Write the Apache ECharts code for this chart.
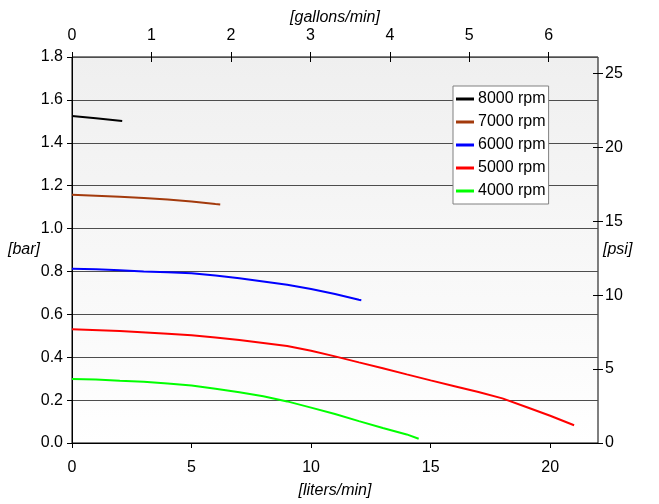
<!DOCTYPE html>
<html>
<head>
<meta charset="UTF-8">
<title>pump curves</title>
<script src="https://cdn.jsdelivr.net/npm/echarts@6/dist/echarts.min.js"></script>
<style>
  html, body { margin: 0; padding: 0; background: #fff; }
  #main { width: 659px; height: 504px; }
</style>
</head>
<body>
<div id="main"></div>
<script type="text/javascript">
// flow in liters/min, pressure in bar
var names = ['8000 rpm', '7000 rpm', '6000 rpm', '5000 rpm', '4000 rpm'];
var colors = ['#000000', '#a33a0c', '#0000ff', '#ff0000', '#00ff00'];

var flow8000 = [0, 1, 2.1];
var bar8000 = [1.525, 1.514, 1.502];

var flow7000 = [0, 1, 2, 3, 4, 5, 6, 6.2];
var bar7000 = [1.158, 1.153, 1.148, 1.142, 1.135, 1.126, 1.114, 1.112];

var flow6000 = [0, 1, 2, 3, 4, 5, 6, 7, 8, 9, 10, 11, 12, 12.1];
var bar6000 = [0.813, 0.810, 0.805, 0.800, 0.796, 0.792, 0.781, 0.768, 0.753, 0.738, 0.718, 0.695, 0.668, 0.666];

var flow5000 = [0, 2, 4, 5, 6, 7, 8, 9, 10, 11, 12, 13, 14, 15, 16, 17, 18, 19, 20, 21];
var bar5000 = [0.530, 0.522, 0.510, 0.502, 0.492, 0.480, 0.466, 0.452, 0.430, 0.404, 0.376, 0.349, 0.320, 0.292, 0.265, 0.238, 0.208, 0.168, 0.127, 0.083];

var flow4000 = [0, 1, 2, 3, 4, 5, 6, 7, 8, 9, 10, 11, 12, 13, 14, 14.5];
var bar4000 = [0.298, 0.296, 0.290, 0.286, 0.278, 0.268, 0.253, 0.237, 0.218, 0.194, 0.165, 0.135, 0.102, 0.070, 0.040, 0.020];

var flows = [flow8000, flow7000, flow6000, flow5000, flow4000];
var bars = [bar8000, bar7000, bar6000, bar5000, bar4000];

function pairs(xs, ys) {
  var out = [];
  for (var i = 0; i < xs.length; i++) out.push([xs[i], ys[i]]);
  return out;
}

var series = [];
for (var k = 0; k < names.length; k++) {
  series.push({
    name: names[k],
    type: 'line',
    xAxisIndex: 0,
    yAxisIndex: 0,
    showSymbol: false,
    symbol: 'none',
    lineStyle: { color: colors[k], width: 2 },
    itemStyle: { color: colors[k] },
    data: pairs(flows[k], bars[k])
  });
}

var font = 'Arial, "Liberation Sans", sans-serif';
var lblStyle = { color: '#000', fontSize: 16, fontFamily: font };
var nameStyle = { color: '#000', fontSize: 16, fontFamily: font, fontStyle: 'italic' };

var myChart = echarts.init(document.getElementById('main'));
var option = {
  animation: false,
  grid: {
    left: 72, right: 61, top: 57, bottom: 60,
    show: true,
    borderWidth: 1,
    borderColor: '#000',
    backgroundColor: new echarts.graphic.LinearGradient(0, 0, 0, 1, [
      { offset: 0, color: '#efefef' },
      { offset: 1, color: '#ffffff' }
    ])
  },
  legend: {
    data: names,
    orient: 'vertical',
    left: 453, top: 86,
    backgroundColor: '#fff',
    borderColor: '#808080',
    borderWidth: 1,
    padding: [5, 3, 5, 3],
    itemGap: 7,
    itemWidth: 18,
    itemHeight: 3,
    icon: 'rect',
    textStyle: { color: '#000', fontSize: 16, fontFamily: font, padding: [0, 0, 0, -1] }
  },
  xAxis: [
    {
      type: 'value', position: 'bottom', min: 0, max: 22, interval: 5,
      name: '[liters/min]', nameLocation: 'middle', nameGap: 40, nameTextStyle: nameStyle,
      nameMoveOverlap: false,
      axisLine: { show: true, onZero: false, lineStyle: { color: '#000', width: 1 } },
      axisTick: { show: true, length: 5, lineStyle: { color: '#000' } },
      axisLabel: Object.assign({ margin: 17, showMaxLabel: false }, lblStyle),
      splitLine: { show: false }
    },
    {
      // pulled 5px inside so the 10px ticks cross the grid border
      type: 'value', position: 'top', offset: -5, min: 0, max: 6.62, interval: 1,
      name: '[gallons/min]', nameLocation: 'middle', nameGap: 36, nameTextStyle: nameStyle,
      nameMoveOverlap: false,
      axisLine: { show: false, onZero: false },
      axisTick: { show: true, length: 10, lineStyle: { color: '#000' } },
      axisLabel: Object.assign({ margin: 18, showMaxLabel: false }, lblStyle),
      splitLine: { show: false }
    }
  ],
  yAxis: [
    {
      type: 'value', position: 'left', min: 0, max: 1.8, interval: 0.2,
      name: '[bar]', nameLocation: 'middle', nameRotate: 0, nameGap: 32, nameTextStyle: nameStyle,
      nameMoveOverlap: false,
      axisLine: { show: true, onZero: false, lineStyle: { color: '#000', width: 1 } },
      axisTick: { show: true, length: 5, lineStyle: { color: '#000' } },
      axisLabel: Object.assign({ margin: 9, padding: [7, 0, 0, 0], formatter: function (v) { return v.toFixed(1); } }, lblStyle),
      splitLine: { show: true, lineStyle: { color: '#4d4d4d', width: 1 } }
    },
    {
      type: 'value', position: 'right', offset: -5, min: 0, max: 26.1, interval: 5,
      name: '[psi]', nameLocation: 'middle', nameRotate: 0, nameGap: 10, nameTextStyle: nameStyle,
      nameMoveOverlap: false,
      axisLine: { show: false, onZero: false },
      axisTick: { show: true, length: 10, lineStyle: { color: '#000' } },
      axisLabel: Object.assign({ margin: 12, padding: [3, 0, 0, 0], showMaxLabel: false }, lblStyle),
      splitLine: { show: false }
    }
  ],
  series: series
};
myChart.setOption(option);
</script>
</body>
</html>
